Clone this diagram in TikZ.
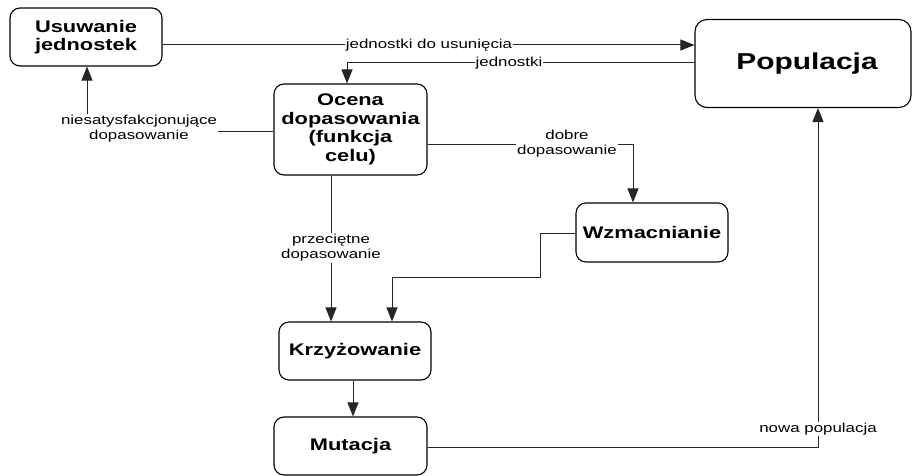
\documentclass[tikz,border=0pt]{standalone}
\usepackage{fontspec}
\setmainfont[FakeStretch=1.3]{Liberation Sans}
\usetikzlibrary{arrows.meta}
\begin{document}
\begin{tikzpicture}[x=1pt,y=-1pt,
  box/.style={draw=black,line width=1.1pt,rounded corners=10pt,align=center,
    font=\fontsize{16.8}{18.5}\selectfont\bfseries,inner sep=0pt},
  lbl/.style={fill=white,align=center,inner sep=1pt,font=\fontsize{13}{15}\selectfont},
  arr/.style={draw=black!85,line width=1pt,-{Triangle[length=14pt,width=11pt]}},
  ln/.style={draw=black!85,line width=1pt}]
\useasboundingbox (0,0) rectangle (912,476);
% boxes
\node[box,minimum width=152pt,minimum height=58pt] (usu) at (86,37) {Usuwanie\\jednostek};
\node[box,minimum width=216pt,minimum height=88pt,rounded corners=12pt,
  font=\fontsize{23}{26}\selectfont\bfseries] (pop) at (803,63.5) {\hspace*{8pt}Populacja};
\node[box,minimum width=153pt,minimum height=91pt] (oc) at (350.5,129.5) {Ocena\\dopasowania\\(funkcja\\celu)};
\node[box,minimum width=152pt,minimum height=59pt] (wzm) at (652,232.5) {Wzmacnianie};
\node[box,minimum width=152pt,minimum height=58pt] (krz) at (355,351) {Krzyżowanie};
\node[box,minimum width=153pt,minimum height=58pt] (mut) at (350.5,446) {Mutacja};
% connectors
\draw[arr] (usu.east |- 0,45) -- (pop.west |- 0,45);
\node[lbl] (l1) at (429,45) {jednostki do usunięcia};
\draw[arr] (pop.west |- 0,63) -| (oc.north -| 347,0);
\node[lbl] (l2) at (509,63) {jednostki};
\draw[arr] (oc.west |- 0,131) -| (usu.south -| 87,0);
\node[lbl] (l3) at (139,129) {niesatysfakcjonujące\\dopasowanie};
\draw[arr] (oc.east |- 0,144) -| (wzm.north -| 633,0);
\node[lbl] (l4) at (567,143.5) {dobre\\dopasowanie};
\draw[arr] (oc.south -| 331,0) -- (krz.north -| 331,0);
\node[lbl] (l5) at (331,248) {przeciętne\\dopasowanie};
\draw[arr] (wzm.west |- 0,233) -- (540,233) -- (540,277) -- (392,277) -- (krz.north -| 392,0);
\draw[arr] (krz.south -| 353,0) -- (mut.north -| 353,0);
\draw[arr] (mut.east |- 0,447) -| (pop.south -| 818,0);
\node[lbl] (l6) at (818,429) {nowa populacja};
\end{tikzpicture}
\end{document}
